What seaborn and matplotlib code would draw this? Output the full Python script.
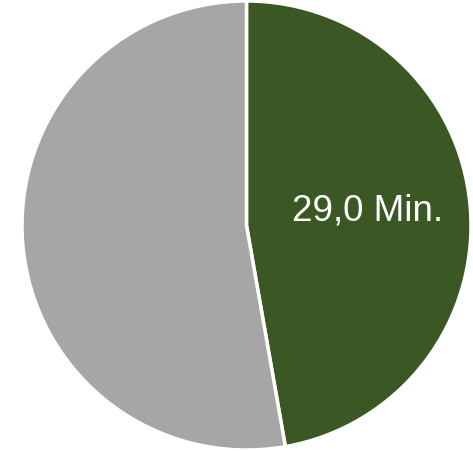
import matplotlib.pyplot as plt
import seaborn as sns

# Slice values (minutes)
labels = ["29,0 Min.", ""]
values = [29.0, 32.4]
colors = ["#3A5724", "#A6A6A6"]

sns.set_theme(style="white")
plt.rcParams['font.family'] = ['Liberation Sans', 'DejaVu Sans']

fig = plt.figure(figsize=(4.73, 4.52), dpi=100)
ax = fig.add_axes([22 / 473, 1 / 452, 449 / 473, 449 / 452])

wedges, texts = ax.pie(
    values,
    labels=labels,
    colors=colors,
    startangle=90,
    counterclock=False,
    labeldistance=0.54,
    wedgeprops={"edgecolor": "white", "linewidth": 2.5},
    textprops={"color": "white", "fontsize": 26.5, "ha": "center", "va": "center"},
)
# nudge the label slightly upward as in the original
texts[0].set_y(texts[0].get_position()[1] + 0.02)
ax.set_xlim(-1.0, 1.0)
ax.set_ylim(-1.0, 1.0)
ax.set_aspect("equal")
ax.axis("off")

fig.savefig("out.png", dpi=100)
